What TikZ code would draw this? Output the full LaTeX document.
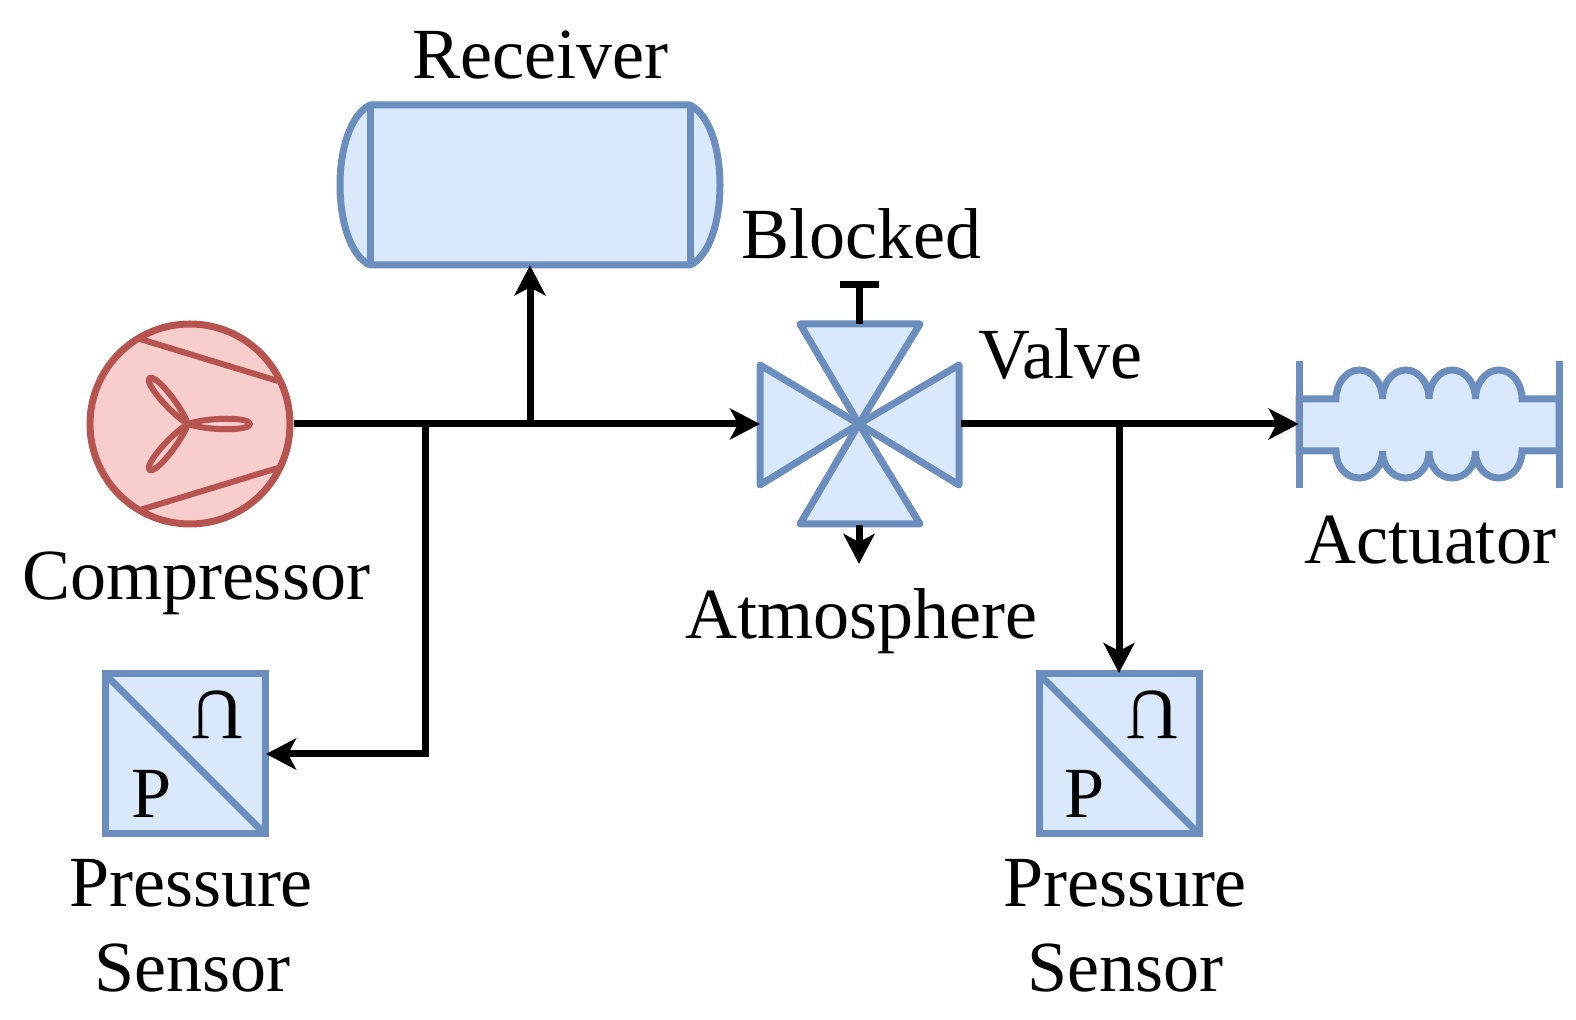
\documentclass[tikz,border=0pt]{standalone}
\usepackage{fontspec}
\setmainfont{Liberation Serif}
\usetikzlibrary{arrows.meta}
\definecolor{bfill}{HTML}{DAE8FC}
\definecolor{bline}{HTML}{6C8EBF}
\definecolor{rfill}{HTML}{F8CECC}
\definecolor{rline}{HTML}{B85450}
\tikzset{
  x=0.5pt,y=-0.5pt,
  blueshape/.style={draw=bline,fill=bfill,line width=3.5pt,line join=round},
  blueline/.style={draw=bline,line width=3.5pt},
  redshape/.style={draw=rline,fill=rfill,line width=3.5pt},
  redline/.style={draw=rline,line width=3pt},
  conn/.style={draw=black,line width=3.5pt,line join=miter},
  arr/.style={conn,-{Stealth[length=15pt,width=15.5pt,inset=4pt]}},
  lab/.style={font=\fontsize{36}{36}\selectfont,anchor=base,inner sep=0pt,text=black},
  sens/.style={blueshape,minimum size=80pt,inner sep=0pt,line join=miter,rectangle,outer sep=0.5pt}
}
\begin{document}
\begin{tikzpicture}
\useasboundingbox (0,0) rectangle (1576,1020);
% receiver
\path[blueshape] (370,105) .. controls (350,115) and (340,150) .. (340,185) .. controls (340,220) and (350,256) .. (370,265) -- (690,265) .. controls (710,256) and (720,220) .. (720,185) .. controls (720,150) and (710,115) .. (690,105) -- cycle;
\draw[blueline] (370,105) -- (370,265) (690,105) -- (690,265);
\node[minimum width=160pt,minimum height=80pt,inner sep=0pt] (receiver) at (530,185) {};
% compressor
\node[circle,redshape,minimum size=100pt,inner sep=0pt] (compressor) at (190,424) {};
\draw[redline] (140,339) -- (278,381) (140,510) -- (278,468);
\foreach \ang/\len in {0/62,130/60,-130/60} {
  \draw[redline,line join=round,shift={(188,424)},rotate=\ang]
    (0,0) .. controls (20,-7) and (\len,-7) .. (\len,0) .. controls (\len,7) and (20,7) .. (0,0) -- cycle;
}
% valve
\coordinate (valve) at (859,424);
\path[blueshape] (valve) -- (760,365) -- (760,485) -- cycle;
\path[blueshape] (valve) -- (959,365) -- (959,485) -- cycle;
\path[blueshape] (valve) -- (800,324) -- (920,324) -- cycle;
\path[blueshape] (valve) -- (800,524) -- (920,524) -- cycle;
\coordinate (valveW) at (760,424);
\coordinate (valveE) at (961,424);
\coordinate (valveN) at (859,324);
\coordinate (valveS) at (859,525);
\coordinate (blockT) at (859,285);
\coordinate (blockL) at (840,285);
\coordinate (blockR) at (879,285);
\coordinate (atmT) at (859,564);
% actuator
\path[blueshape,line join=miter] (1299,399) -- (1336,399)
  \foreach \a in {1336,1382.5,1429,1475.5} {
   .. controls (\a,383) and (\a+10.5,370) .. (\a+23.25,370) .. controls (\a+36,370) and (\a+46.5,383) .. (\a+46.5,399)
  } -- (1559,399) -- (1559,451) -- (1522,451)
  \foreach \a in {1522,1475.5,1429,1382.5} {
   .. controls (\a,467) and (\a-10.5,478) .. (\a-23.25,478) .. controls (\a-36,478) and (\a-46.5,467) .. (\a-46.5,451)
  } -- (1299,451) -- cycle;
\path[draw=bfill,line width=3.5pt] (1382.5,403.5) -- (1382.5,446.5) (1429,403.5) -- (1429,446.5) (1475.5,403.5) -- (1475.5,446.5) (1336,403.5) -- (1336,446.5) (1522,403.5) -- (1522,446.5);
\draw[blueline] (1299,361) -- (1299,488) (1559,361) -- (1559,488);
\node[minimum width=130pt,minimum height=62pt,inner sep=0pt] (actuator) at (1429,424) {};
% sensors
\node[sens,draw] (s1) at (185,754) {};
\draw[blueline,shorten <=1pt,shorten >=1pt] (s1.north west) -- (s1.south east);
\node[sens,draw] (s2) at (1119,754) {};
\draw[blueline,shorten <=1pt,shorten >=1pt] (s2.north west) -- (s2.south east);
% connectors
\coordinate (j1) at (425,424);
\coordinate (j2) at (530,424);
\coordinate (j3) at (1119,424);
\draw[arr] (compressor.east) -- (valveW);
\draw[arr] (j2) -- (receiver.south);
\draw[arr] (j1) |- (s1.east);
\draw[arr] (valveE) -- (actuator.west);
\draw[arr] (j3) -- (s2.north);
\draw[conn] (valveN) -- (blockT);
\draw[conn] (blockL) -- (blockR);
\draw[arr] (valveS) -- (atmT);
% labels
\node[lab] (t1) at (540.5,79) {Receiver};
\node[lab] (t2) at (861,259) {Blocked};
\node[lab] (t3) at (1060,379) {Valve};
\node[lab] (t4) at (1430,564) {Actuator};
\node[lab] (t5) at (861,639) {Atmosphere};
\node[lab] (t6) at (196,600) {Compressor};
\node[lab] (t7) at (191,907) {Pressure};
\node[lab] (t8) at (192,992) {Sensor};
\node[lab] (t9) at (1125,907) {Pressure};
\node[lab] (t10) at (1125,992) {Sensor};
\node[lab] (p1) at (151.5,817.5) {P};
\node[lab] (p2) at (1084.5,817.5) {P};
\node[lab,rotate=180] (o1) at (217,692) {U};
\node[lab,rotate=180] (o2) at (1152,692) {U};
\end{tikzpicture}
\end{document}
